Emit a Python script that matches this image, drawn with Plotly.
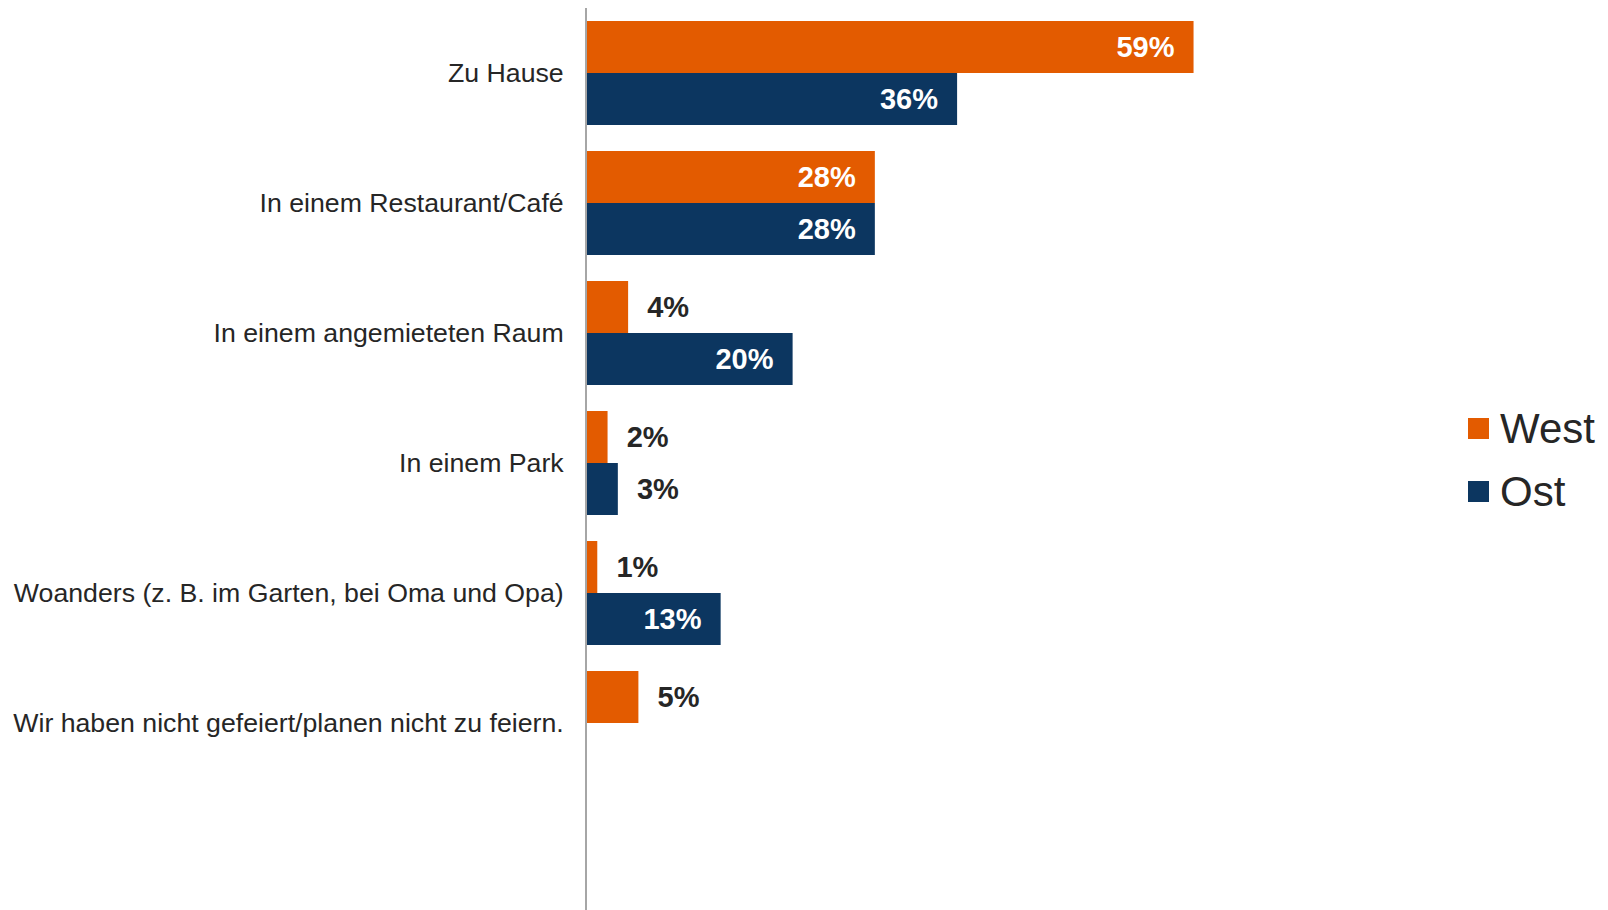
import plotly.graph_objects as go

categories = [
    "Zu Hause",
    "In einem Restaurant/Café",
    "In einem angemieteten Raum",
    "In einem Park",
    "Woanders (z. B. im Garten, bei Oma und Opa)",
    "Wir haben nicht gefeiert/planen nicht zu feiern.",
]
west = [59, 28, 4, 2, 1, 5]
ost = [36, 28, 20, 3, 13, None]
series_names = ["West", "Ost"]
colors = ["#E35B00", "#0C3660"]

FONT = "Liberation Sans, Arial, sans-serif"
NB = "\u00a0"

def texts(vals):
    out, pos, cols = [], [], []
    for v in vals:
        if v is None:
            out.append("")
            pos.append("none")
            cols.append("#ffffff")
        elif v >= 10:
            out.append(f"{v}%" + NB * 2)
            pos.append("inside")
            cols.append("#ffffff")
        else:
            out.append(NB * 2 + f"{v}%")
            pos.append("outside")
            cols.append("#262626")
    return out, pos, cols

fig = go.Figure()
for name, vals, col in zip(series_names, [west, ost], colors):
    t, p, c = texts(vals)
    fig.add_trace(go.Bar(
        y=categories, x=vals, name=name, orientation="h",
        marker=dict(color=col, line=dict(width=0)),
        text=t, textposition=p, insidetextanchor="end",
        textfont=dict(family=FONT, size=29, color=c, weight="bold"),
        cliponaxis=False, showlegend=False,
    ))

OFF = 8  # page body margin
W, H = 1608, 910
L, R, T, B = 587 - OFF, 178 + OFF, 0, 0
pw, ph = W - L - R, H - T - B

def px_to_paper_x(px):
    return (px - OFF - L) / pw

def px_to_paper_y(py):
    return 1 - (py - OFF - T) / ph

# legend drawn manually (large squares)
leg_rows = [(418, 439, 428), (481, 502, 491)]
for (y0, y1, yc), name, col in zip(leg_rows, series_names, colors):
    fig.add_shape(type="rect", xref="paper", yref="paper",
                  x0=px_to_paper_x(1468), x1=px_to_paper_x(1489),
                  y0=px_to_paper_y(y1), y1=px_to_paper_y(y0),
                  fillcolor=col, line=dict(width=0))
    fig.add_annotation(xref="paper", yref="paper", x=px_to_paper_x(1498), y=px_to_paper_y(yc),
                       text=name, showarrow=False, xanchor="left", yanchor="middle",
                       font=dict(family=FONT, size=42, color="#262626"))

fig.update_layout(
    width=W, height=H,
    margin=dict(l=L, r=R, t=T, b=B, pad=0, autoexpand=False),
    barmode="group", bargap=0.2, bargroupgap=0,
    plot_bgcolor="white", paper_bgcolor="white",
    showlegend=False,
    font=dict(family=FONT, color="#262626"),
    xaxis=dict(range=[0, 82], showgrid=False, zeroline=False, showticklabels=False,
               showline=False, ticks="", automargin=False),
    yaxis=dict(type="category", range=[6.5, -0.5], showgrid=False, zeroline=False,
               showline=True, linecolor="#a6a6a6", linewidth=2, ticks="",
               ticklabelstandoff=16, automargin=False,
               tickfont=dict(family=FONT, size=26.7, color="#262626")),
)

fig.write_html("out.html")
